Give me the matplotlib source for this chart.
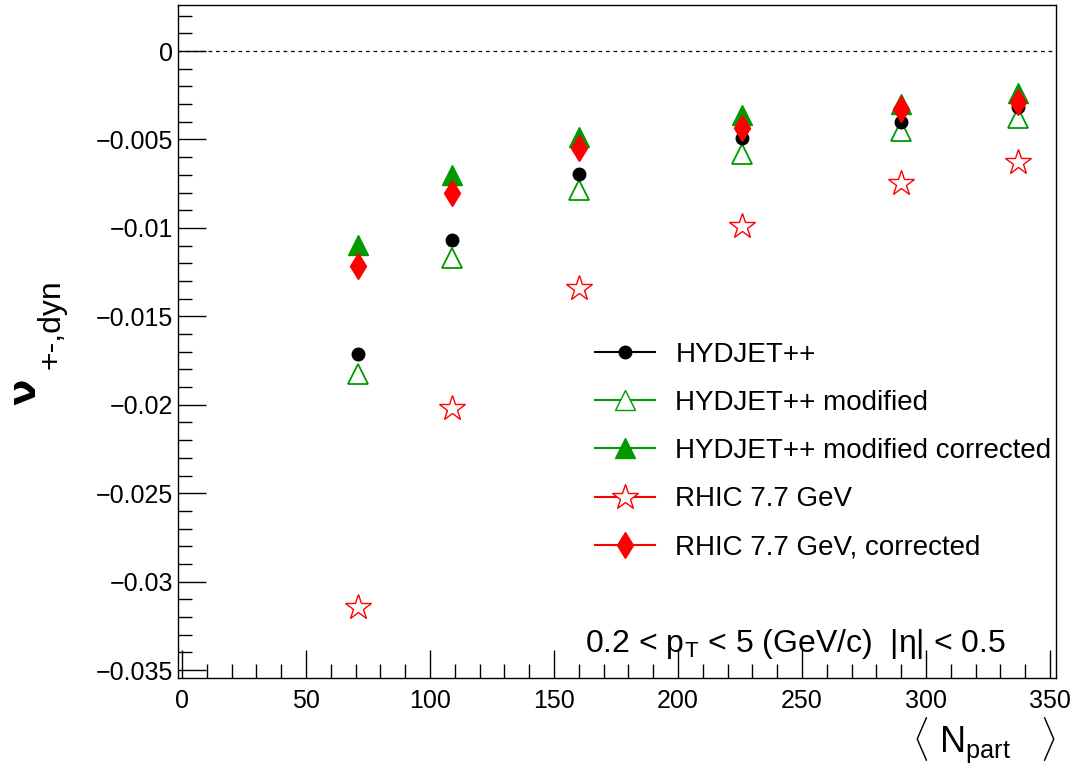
import numpy as np
import matplotlib
matplotlib.use("Agg")
import matplotlib.pyplot as plt
from matplotlib.lines import Line2D
from matplotlib.ticker import MultipleLocator, FixedLocator, FixedFormatter

plt.rcParams['font.family'] = ['Liberation Sans', 'DejaVu Sans']
plt.rcParams['mathtext.fontset'] = 'custom'
plt.rcParams['mathtext.rm'] = 'Liberation Sans'
plt.rcParams['mathtext.it'] = 'Liberation Sans:italic'

# ---------------- data ----------------
npart = [71, 109, 160, 226, 290, 337]

hydjet = [-0.01714, -0.01069, -0.00696, -0.00490, -0.00399, -0.00317]
hydjet_err = [0.00030, 0.00025, 0.00020, 0.00015, 0.00015, 0.00012]

hydjet_mod = [-0.01827, -0.01171, -0.00786, -0.00580, -0.00452, -0.00376]
hydjet_mod_err = [0.00020, 0.00015, 0.00012, 0.00010, 0.00010, 0.00008]

hydjet_mod_corr = [-0.01097, -0.00701, -0.00486, -0.00360, -0.00299, -0.00236]

rhic = [-0.03145, -0.02019, -0.01340, -0.00990, -0.00745, -0.00625]
rhic_corr = [-0.01216, -0.00803, -0.00549, -0.00436, -0.00326, -0.00287]

yticks = [0, -0.005, -0.01, -0.015, -0.02, -0.025, -0.03, -0.035]
ytick_labels = ["0", "\u22120.005", "\u22120.01", "\u22120.015", "\u22120.02",
                "\u22120.025", "\u22120.03", "\u22120.035"]

fig = plt.figure(figsize=(10.72, 7.74), dpi=100)
ax = fig.add_axes([0.166, 0.124, 0.819, 0.8695])

green = "#009900"

ax.axhline(0, color="black", lw=0.9, ls=(0, (3, 3)))

ax.errorbar(npart, hydjet, yerr=hydjet_err, fmt="o", color="black", ms=9,
            capsize=3, elinewidth=1, zorder=3)
ax.errorbar(npart, hydjet_mod, yerr=hydjet_mod_err, fmt="^", color=green,
            mfc="white", mec=green, ms=14, mew=1.3, capsize=2, elinewidth=1, zorder=2)
ax.plot(npart, hydjet_mod_corr, "^", color=green, ms=14, zorder=4)
ax.plot(npart, rhic, "*", color="red", mfc="none", mec="red", ms=19, mew=1.0, zorder=3)
ax.plot(npart, rhic_corr, "d", color="red", ms=13, zorder=5)

ax.set_xlim(-1.6, 352.4)
ax.set_ylim(-0.03545, 0.0026)

ax.xaxis.set_major_locator(MultipleLocator(50))
ax.xaxis.set_minor_locator(MultipleLocator(10))
ax.yaxis.set_major_locator(FixedLocator(yticks))
ax.yaxis.set_major_formatter(FixedFormatter(ytick_labels))
ax.yaxis.set_minor_locator(MultipleLocator(0.001))

ax.tick_params(which="both", direction="in", top=False, right=False, labelsize=18)
ax.tick_params(which="major", length=20, width=1)
ax.tick_params(which="minor", length=10, width=1)
ax.tick_params(axis="x", pad=8)
for s in ax.spines.values():
    s.set_linewidth(1.0)

# y axis title: nu with subscript, drawn as two pieces like ROOT does
fig.text(0.0229, 0.4935, "\u03bd", fontsize=28, fontweight="bold",
         family="DejaVu Sans", rotation=90, ha="center", va="center")
fig.text(0.0485, 0.5814, "+-,dyn", fontsize=23, rotation=90, ha="center", va="center")

fig.text(0.985, 0.012, r"$\langle$ N$_{\mathrm{part}}$   $\rangle$", fontsize=26,
         ha="right", va="bottom")

ax.text(0.4636, 0.0386, "0.2 < p$_{\\mathrm{T}}$ < 5 (GeV/c)  |\u03b7| < 0.5",
        transform=ax.transAxes, fontsize=23, ha="left", va="baseline")

handles = [
    Line2D([], [], color="black", marker="o", ms=9, lw=1.5),
    Line2D([], [], color=green, marker="^", mfc="white", mec=green, ms=14, lw=1.5),
    Line2D([], [], color=green, marker="^", ms=14, lw=1.5),
    Line2D([], [], color="red", marker="*", mfc="white", mec="red", ms=19, lw=1.5, mew=1.0),
    Line2D([], [], color="red", marker="d", ms=13, lw=1.5),
]
labels = ["HYDJET++", "HYDJET++ modified", "HYDJET++ modified corrected",
          "RHIC 7.7 GeV", "RHIC 7.7 GeV, corrected"]
leg = ax.legend(handles, labels, loc="upper left", bbox_to_anchor=(0.447, 0.537),
                frameon=False, fontsize=20, handlelength=2.16, labelspacing=0.8,
                numpoints=1, handletextpad=0.72)

fig.savefig("out.png", dpi=100)
